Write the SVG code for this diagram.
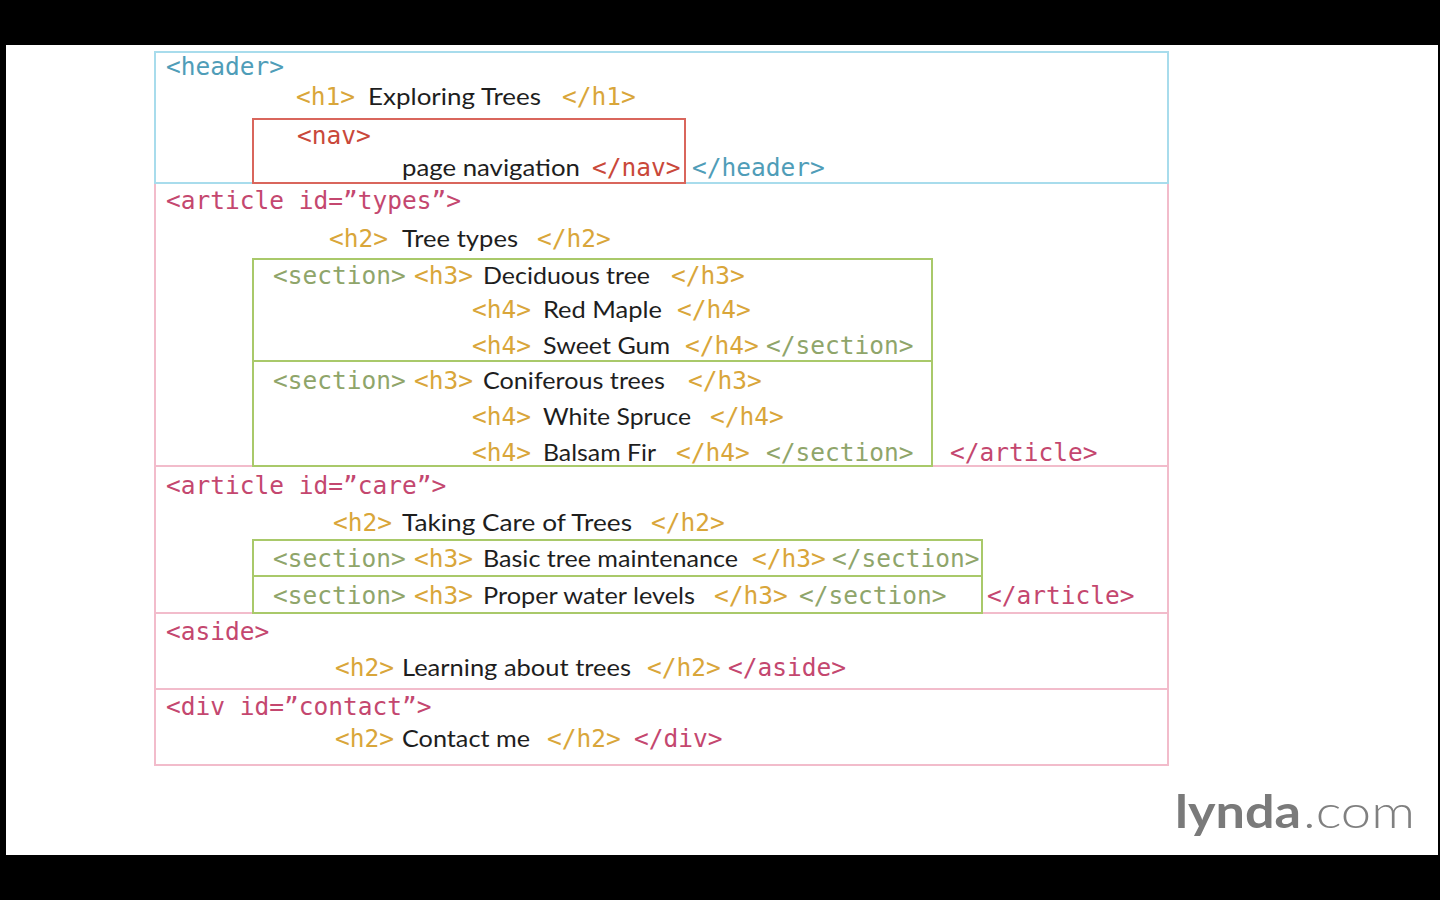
<svg xmlns="http://www.w3.org/2000/svg" width="1440" height="900" viewBox="0 0 1440 900">
<style>
.m{font-family:"DejaVu Sans Mono","Liberation Mono",monospace;font-size:24.5px}
.c{font-family:Lato,"Noto Sans",sans-serif;font-size:23.5px;fill:#1e1e1e}
.hd{fill:#4f9db8}.nv{fill:#c9483a}.ar{fill:#c4476f}.hx{fill:#d9a63a}.sc{fill:#8fa56a}
.bx{fill:none;stroke-width:2}
.bh{stroke:#a8dcec}.bn{stroke:#d9665c}.bp{stroke:#f2bccb}.bg{stroke:#a9c96a}
</style>
<rect x="0" y="0" width="1440" height="900" fill="#000"/>
<rect x="6" y="45" width="1432" height="810" fill="#fff"/>

<g id="boxes">
<rect id="pink-outer" class="bx bp" x="155" y="183" width="1013" height="582"/>
<line class="bx bp" x1="155" y1="466" x2="1168" y2="466"/>
<line class="bx bp" x1="155" y1="613" x2="1168" y2="613"/>
<line class="bx bp" x1="155" y1="689" x2="1168" y2="689"/>
<rect id="header-box" class="bx bh" x="155" y="52" width="1013" height="131"/>
<rect id="nav-box" class="bx bn" x="253" y="119" width="432" height="64"/>
<rect id="sec1" class="bx bg" x="253" y="259" width="679" height="102"/>
<rect id="sec2" class="bx bg" x="253" y="361" width="679" height="105"/>
<rect id="sec3" class="bx bg" x="253" y="540" width="729" height="36"/>
<rect id="sec4" class="bx bg" x="253" y="576" width="729" height="37"/>
</g>

<g id="header">
<text class="m hd" x="166" y="75">&lt;header&gt;</text>
<text class="m hx" x="296" y="105">&lt;h1&gt;</text>
<text class="c" x="368" y="105" textLength="173" lengthAdjust="spacingAndGlyphs">Exploring Trees</text>
<text class="m hx" x="562" y="105">&lt;/h1&gt;</text>
<text class="m nv" x="297" y="144">&lt;nav&gt;</text>
<text class="c" x="402" y="176" textLength="178" lengthAdjust="spacingAndGlyphs">page navigation</text>
<text class="m nv" x="592" y="176">&lt;/nav&gt;</text>
<text class="m hd" x="692" y="176">&lt;/header&gt;</text>
</g>

<g id="article-types">
<text class="m ar" x="166" y="209">&lt;article id=”types”&gt;</text>
<text class="m hx" x="329" y="247">&lt;h2&gt;</text>
<text class="c" x="402" y="247" textLength="116" lengthAdjust="spacingAndGlyphs">Tree types</text>
<text class="m hx" x="537" y="247">&lt;/h2&gt;</text>

<text class="m sc" x="273" y="284">&lt;section&gt;</text>
<text class="m hx" x="414" y="284">&lt;h3&gt;</text>
<text class="c" x="483" y="284" textLength="167" lengthAdjust="spacingAndGlyphs">Deciduous tree</text>
<text class="m hx" x="671" y="284">&lt;/h3&gt;</text>
<text class="m hx" x="472" y="318">&lt;h4&gt;</text>
<text class="c" x="543" y="318" textLength="119" lengthAdjust="spacingAndGlyphs">Red Maple</text>
<text class="m hx" x="677" y="318">&lt;/h4&gt;</text>
<text class="m hx" x="472" y="354">&lt;h4&gt;</text>
<text class="c" x="543" y="354" textLength="127" lengthAdjust="spacingAndGlyphs">Sweet Gum</text>
<text class="m hx" x="685" y="354">&lt;/h4&gt;</text>
<text class="m sc" x="766" y="354">&lt;/section&gt;</text>

<text class="m sc" x="273" y="389">&lt;section&gt;</text>
<text class="m hx" x="414" y="389">&lt;h3&gt;</text>
<text class="c" x="483" y="389" textLength="182" lengthAdjust="spacingAndGlyphs">Coniferous trees</text>
<text class="m hx" x="688" y="389">&lt;/h3&gt;</text>
<text class="m hx" x="472" y="425">&lt;h4&gt;</text>
<text class="c" x="543" y="425" textLength="148" lengthAdjust="spacingAndGlyphs">White Spruce</text>
<text class="m hx" x="710" y="425">&lt;/h4&gt;</text>
<text class="m hx" x="472" y="461">&lt;h4&gt;</text>
<text class="c" x="543" y="461" textLength="113" lengthAdjust="spacingAndGlyphs">Balsam Fir</text>
<text class="m hx" x="676" y="461">&lt;/h4&gt;</text>
<text class="m sc" x="766" y="461">&lt;/section&gt;</text>
<text class="m ar" x="950" y="461">&lt;/article&gt;</text>
</g>

<g id="article-care">
<text class="m ar" x="166" y="494">&lt;article id=”care”&gt;</text>
<text class="m hx" x="333" y="531">&lt;h2&gt;</text>
<text class="c" x="402" y="531" textLength="230" lengthAdjust="spacingAndGlyphs">Taking Care of Trees</text>
<text class="m hx" x="651" y="531">&lt;/h2&gt;</text>
<text class="m sc" x="273" y="567">&lt;section&gt;</text>
<text class="m hx" x="414" y="567">&lt;h3&gt;</text>
<text class="c" x="483" y="567" textLength="255" lengthAdjust="spacingAndGlyphs">Basic tree maintenance</text>
<text class="m hx" x="752" y="567">&lt;/h3&gt;</text>
<text class="m sc" x="832" y="567">&lt;/section&gt;</text>
<text class="m sc" x="273" y="604">&lt;section&gt;</text>
<text class="m hx" x="414" y="604">&lt;h3&gt;</text>
<text class="c" x="483" y="604" textLength="212" lengthAdjust="spacingAndGlyphs">Proper water levels</text>
<text class="m hx" x="714" y="604">&lt;/h3&gt;</text>
<text class="m sc" x="799" y="604">&lt;/section&gt;</text>
<text class="m ar" x="987" y="604">&lt;/article&gt;</text>
</g>

<g id="aside">
<text class="m ar" x="166" y="640">&lt;aside&gt;</text>
<text class="m hx" x="335" y="676">&lt;h2&gt;</text>
<text class="c" x="402" y="676" textLength="229" lengthAdjust="spacingAndGlyphs">Learning about trees</text>
<text class="m hx" x="647" y="676">&lt;/h2&gt;</text>
<text class="m ar" x="728" y="676">&lt;/aside&gt;</text>
</g>

<g id="div-contact">
<text class="m ar" x="166" y="715">&lt;div id=”contact”&gt;</text>
<text class="m hx" x="335" y="747">&lt;h2&gt;</text>
<text class="c" x="402" y="747" textLength="128" lengthAdjust="spacingAndGlyphs">Contact me</text>
<text class="m hx" x="547" y="747">&lt;/h2&gt;</text>
<text class="m ar" x="634" y="747">&lt;/div&gt;</text>
</g>

<g id="logo">
<text x="1175" y="828" font-family="Lato,'Noto Sans',sans-serif" font-size="46" font-weight="bold" fill="#7a7a7a" textLength="126" lengthAdjust="spacingAndGlyphs">lynda</text>
<text x="1303" y="828" font-family="Lato,'Noto Sans',sans-serif" font-size="46" font-weight="300" fill="#808080" textLength="112" lengthAdjust="spacingAndGlyphs">.com</text>
</g>
</svg>
